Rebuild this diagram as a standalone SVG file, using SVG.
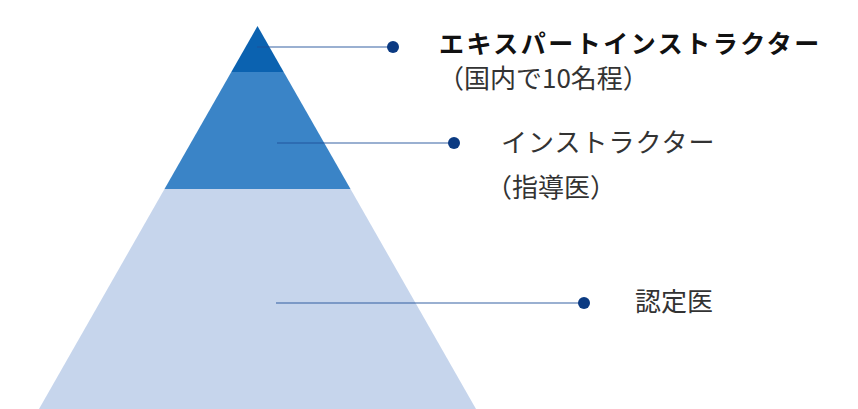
<svg xmlns="http://www.w3.org/2000/svg" width="858" height="409" viewBox="0 0 858 409">
<style>
.t{font-family:"Noto Sans CJK JP","Noto Sans",sans-serif;fill:#333;font-size:26px}
.b{font-weight:bold;fill:#111;font-size:25px}
.ln{stroke:#1f4f9a;stroke-opacity:0.45;stroke-width:2;fill:none}
.dot{fill:#0b3a82}
</style>
<rect width="858" height="409" fill="#fff"/>
<g id="tier-base"><polygon points="164.5,189 350.5,189 476,409 39,409" fill="#c6d5ec"/></g>
<g id="tier-middle"><polygon points="231.3,72 283.7,72 350.5,189 164.5,189" fill="#3a84c7"/></g>
<g id="tier-top"><polygon points="257.5,26 283.7,72 231.3,72" fill="#0b62b0"/></g>
<g id="connectors">
<line class="ln" x1="257" y1="47" x2="393" y2="47"/>
<circle class="dot" cx="393" cy="47" r="6"/>
<line class="ln" x1="277" y1="143" x2="454" y2="143"/>
<circle class="dot" cx="454" cy="143" r="6"/>
<line class="ln" x1="276" y1="303" x2="584" y2="303"/>
<circle class="dot" cx="584" cy="303" r="6"/>
</g>
<g id="label-expert">
<text class="t b" x="439" y="53" letter-spacing="2.5">エキスパートインストラクター</text>
<text class="t" x="438" y="88">（国内で10名程）</text>
</g>
<g id="label-instructor">
<text class="t" x="501" y="152" letter-spacing="1">インストラクター</text>
<text class="t" x="486" y="197">（指導医）</text>
</g>
<g id="label-certified">
<text class="t" x="635" y="311">認定医</text>
</g>
</svg>
